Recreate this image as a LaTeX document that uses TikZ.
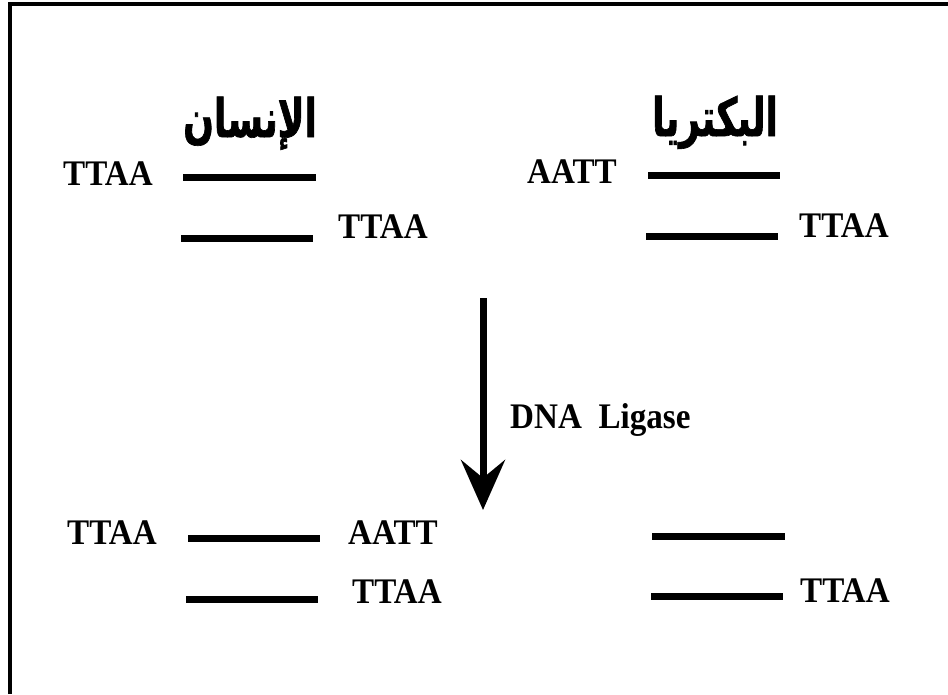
\documentclass[tikz,border=0pt]{standalone}
\usepackage{fontspec}
\usetikzlibrary{arrows.meta}
\TeXXeTstate=1
\newfontfamily\labfont{Liberation Serif}[FakeStretch=0.92]
\newfontfamily\arabicfont[Script=Arabic,FakeStretch=0.68,FakeBold=1.2]{DejaVu Sans}

\begin{document}
\begin{tikzpicture}[x=1pt,y=-1pt,
  strand/.style={line width=7pt},
  frameline/.style={line width=4pt},
  seq/.style={inner sep=0pt, anchor=base west,
    font=\labfont\bfseries\fontsize{36}{36}\selectfont},
  enzyme/.style={inner sep=0pt, anchor=base west,
    font=\labfont\bfseries\fontsize{36}{36}\selectfont},
  title/.style={inner sep=0pt, anchor=base west,
    font=\arabicfont\bfseries\fontsize{53}{53}\selectfont}]
\useasboundingbox (0,0) rectangle (948,694);

% open frame: left and top sides
\draw[frameline] (10,694) -- (10,4) -- (948,4);

% titles
\node[title] (human) at (183,137) {\beginR الإنسان\endR};
\node[title] (bact) at (652,136) {\beginR البكتريا\endR};

% human fragment
\node[seq] (h1) at (63,185) {TTAA};
\draw[strand] (183,177) -- (316,177);
\draw[strand] (181,238.5) -- (313,238.5);
\node[seq] (h2) at (338,238) {TTAA};

% bacterial fragment
\node[seq] (b1) at (527,183) {AATT};
\draw[strand] (648,175.5) -- (780,175.5);
\draw[strand] (646,236.5) -- (778,236.5);
\node[seq] (b2) at (799,237) {TTAA};

% ligation step
\coordinate (ligtop) at (483,298);
\coordinate (ligtip) at (483,510);
\draw[line width=7pt, -{Stealth[length=50pt,width=44pt,inset=18pt]}] (ligtop) -- (ligtip);
\node[enzyme] (lig) at (510,428) {DNA\ \ Ligase};

% products
\node[seq] (p1) at (67,544) {TTAA};
\draw[strand] (188,538.5) -- (320,538.5);
\node[seq] (p2) at (348,544) {AATT};
\draw[strand] (186,599.5) -- (318,599.5);
\node[seq] (p3) at (352,603) {TTAA};

\draw[strand] (652,536.5) -- (785,536.5);
\draw[strand] (651,596.5) -- (783,596.5);
\node[seq] (p4) at (800,602) {TTAA};
\end{tikzpicture}
\end{document}
